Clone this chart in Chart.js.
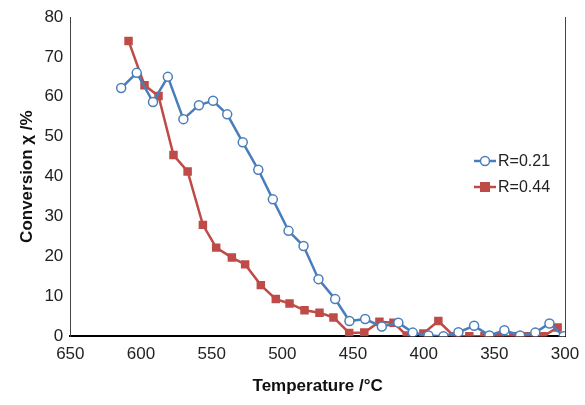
<!DOCTYPE html>
<html>
<head>
<meta charset="utf-8">
<script src="https://cdn.jsdelivr.net/npm/chart.js@4"></script>
<style>
  html, body { margin: 0; padding: 0; background: #fff; }
  #wrap { width: 585px; height: 405px; }
</style>
</head>
<body>
<div id="wrap"><canvas id="chart" width="585" height="405"></canvas></div>
<script>
// Temperature (°C) and conversion (%)
const tempA = [614, 603, 591.5, 581, 570, 559, 549, 539, 528, 517, 506.7, 495.6, 485, 474.4, 462.6, 452.5,
  441.4, 429.6, 417.9, 407.7, 396.6, 386, 375.4, 364.3, 353.5, 342.9, 331.8, 321, 311, 301];
const convA = [62.2, 66, 58.7, 65, 54.4, 57.9, 59, 55.6, 48.6, 41.7, 34.3, 26.4, 22.6, 14.3, 9.3, 3.8,
  4.3, 2.4, 3.4, 0.9, 0.2, 0, 1, 2.6, 0.2, 1.5, 0.2, 0.9, 3.2, 0];
const tempB = [608.8, 597.5, 587.6, 577, 567, 556.2, 546.8, 535.7, 526.3, 515.2, 504.6, 494.9, 484.3, 473.7, 463.8,
  452.7, 442, 431.3, 421.4, 412, 400.2, 389.6, 378.5, 367.7, 357, 346.5, 336.6, 326, 315.3, 305.2];
const convB = [74, 62.9, 60.2, 45.4, 41.3, 27.9, 22.2, 19.7, 18, 12.8, 9.3, 8.2, 6.5, 5.9, 4.7,
  0.8, 0.9, 3.6, 3.4, 0.2, 0.7, 3.8, 0, 0, 0, 0, 0, 0, 0, 2.2];
const seriesNames = ['R=0.21', 'R=0.44'];

const blue = '#4a7ebb';
const red = '#be4b48';
const FONT = '"Liberation Sans", Arial, sans-serif';

function toPoints(xs, ys) {
  return xs.map((x, i) => ({ x: x, y: ys[i] }));
}

// legend drawn inside the plot area, like the original
const sideLegend = {
  id: 'sideLegend',
  afterDraw(chart) {
    const ctx = chart.ctx;
    const items = [
      { name: seriesNames[0], color: blue, style: 'circle' },
      { name: seriesNames[1], color: red, style: 'rect' }
    ];
    ctx.save();
    ctx.font = '16px ' + FONT;
    ctx.textBaseline = 'middle';
    items.forEach((it, i) => {
      const y = 161 + i * 26;
      const x0 = 474;
      ctx.strokeStyle = it.color;
      ctx.lineWidth = 2.5;
      ctx.beginPath();
      ctx.moveTo(x0, y);
      ctx.lineTo(x0 + 22, y);
      ctx.stroke();
      if (it.style === 'circle') {
        ctx.fillStyle = '#fff';
        ctx.lineWidth = 1.5;
        ctx.beginPath();
        ctx.arc(x0 + 11, y, 4.5, 0, Math.PI * 2);
        ctx.fill();
        ctx.stroke();
      } else {
        ctx.fillStyle = it.color;
        ctx.fillRect(x0 + 6, y - 5, 10, 10);
      }
      ctx.fillStyle = '#222';
      ctx.fillText(it.name, x0 + 24, y + 1);
    });
    // right border of plot area
    const a = chart.chartArea;
    ctx.strokeStyle = '#444';
    ctx.lineWidth = 1;
    ctx.beginPath();
    ctx.moveTo(a.right + 0.5, a.top);
    ctx.lineTo(a.right + 0.5, a.bottom);
    ctx.stroke();
    ctx.restore();
  }
};

new Chart(document.getElementById('chart'), {
  type: 'scatter',
  data: {
    datasets: [
      {
        label: seriesNames[0],
        data: toPoints(tempA, convA),
        showLine: true,
        borderColor: blue,
        borderWidth: 2.5,
        backgroundColor: '#fff',
        pointStyle: 'circle',
        pointRadius: 4.5,
        pointBorderWidth: 1.5,
        pointBorderColor: blue,
        pointBackgroundColor: '#fff'
      },
      {
        label: seriesNames[1],
        data: toPoints(tempB, convB),
        showLine: true,
        borderColor: red,
        borderWidth: 2.5,
        pointStyle: 'rect',
        pointRadius: 6,
        pointBorderWidth: 0,
        pointBackgroundColor: red
      }
    ]
  },
  options: {
    responsive: false,
    animation: false,
    layout: { padding: { left: 13, right: 20, top: 17, bottom: 4 } },
    plugins: {
      legend: { display: false },
      tooltip: { enabled: false }
    },
    scales: {
      x: {
        type: 'linear',
        reverse: true,
        min: 300, max: 650,
        ticks: { stepSize: 50, color: '#222', font: { size: 17, family: FONT } },
        grid: { display: false, drawTicks: true, tickLength: 5, tickColor: '#000' },
        border: { color: '#000', width: 2 },
        title: { display: true, text: 'Temperature /°C', color: '#111', font: { size: 17, weight: 'bold', family: FONT }, padding: { top: 9 } }
      },
      y: {
        min: 0, max: 80,
        ticks: { stepSize: 10, color: '#222', font: { size: 17, family: FONT } },
        grid: { display: false, drawTicks: true, tickLength: 4, tickColor: '#000' },
        border: { color: '#444', width: 1 },
        title: { display: true, text: 'Conversion χ /%', color: '#111', font: { size: 17, weight: 'bold', family: FONT }, padding: { bottom: 4 } }
      }
    }
  },
  plugins: [sideLegend]
});
</script>
</body>
</html>
